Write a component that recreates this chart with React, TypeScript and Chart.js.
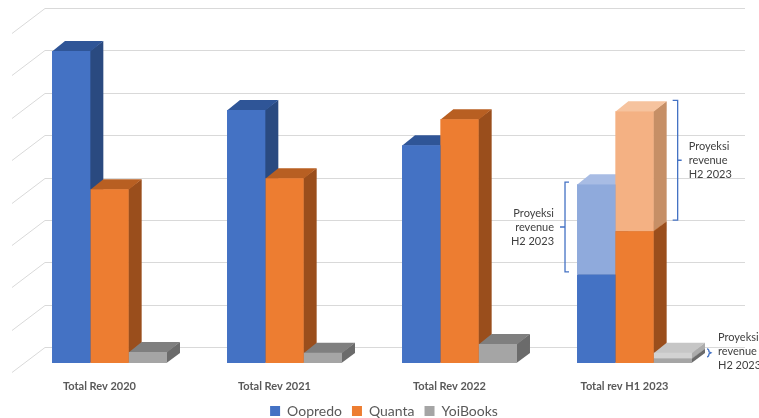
import React, { useEffect, useRef } from 'react';
import { Chart, registerables } from 'chart.js';

Chart.register(...registerables);

const categories = ['Total Rev 2020', 'Total Rev 2021', 'Total Rev 2022', 'Total rev H1 2023'];
const oopredo = [7.36, 5.97, 5.14, 2.08];
const quanta = [4.1, 4.36, 5.75, 3.11];
const yoiBooks = [0.26, 0.24, 0.45, 0.1];
const oopredoProj = [null, null, null, 2.14];
const quantaProj = [null, null, null, 2.83];
const yoiBooksProj = [null, null, null, 0.14];
const gridValues = [0, 1, 2, 3, 4, 5, 6, 7, 8];
const projLines = ['Proyeksi', 'revenue', 'H2 2023'];

// face colours: front, top, side
const faces = [
  { front: '#4472C4', top: '#2F5597', side: '#2A4A80' },
  { front: '#ED7D31', top: '#B85F22', side: '#9A4E1C' },
  { front: '#A5A5A5', top: '#7F7F7F', side: '#6B6B6B' },
  { front: '#8FAADC', top: '#A8BCE4', side: '#7D96C6' },
  { front: '#F4B183', top: '#F6C39E', side: '#C68F66' },
  { front: '#D2D2D2', top: '#C6C6C6', side: '#ACACAC' },
];

const DX = 13, DY = -10; // bar depth
const BX = 23, BY = -16; // back wall offset from bar front
const FX = -10, FY = 9; // floor front offset

const stacksOrder = [[0, 3], [1, 4], [2, 5]];

const threeD = {
  id: 'threeD',
  afterLayout(chart: any) {
    if (chart.legend) {
      chart.legend.left += 12;
      chart.legend.right += 12;
    }
  },
  beforeDatasetsDraw(chart: any) {
    const ctx = chart.ctx;
    const { left, right } = chart.chartArea;
    const ys = chart.scales.y;
    ctx.save();
    ctx.strokeStyle = '#D9D9D9';
    ctx.lineWidth = 1;
    for (const v of gridValues) {
      const py = Math.round(ys.getPixelForValue(v)) + 0.5;
      ctx.beginPath();
      ctx.moveTo(left + BX, py + BY);
      ctx.lineTo(right + BX, py + BY);
      ctx.moveTo(left + FX, py + FY);
      ctx.lineTo(left + BX, py + BY);
      ctx.stroke();
    }
    for (let i = 0; i < categories.length; i++) {
      for (const group of stacksOrder) {
        for (const di of group) {
          const ds = chart.data.datasets[di];
          if (ds.data[i] == null) continue;
          const el = chart.getDatasetMeta(di).data[i];
          if (!el) continue;
          const { x, y, base, width } = el.getProps(['x', 'y', 'base', 'width'], true);
          const l = x - width / 2, r = x + width / 2;
          const f = faces[di];
          ctx.fillStyle = f.side;
          ctx.beginPath();
          ctx.moveTo(r - 0.5, y);
          ctx.lineTo(r + DX, y + DY);
          ctx.lineTo(r + DX, base + DY);
          ctx.lineTo(r - 0.5, base);
          ctx.closePath();
          ctx.fill();
          ctx.fillStyle = f.top;
          ctx.beginPath();
          ctx.moveTo(l, y + 0.5);
          ctx.lineTo(r, y + 0.5);
          ctx.lineTo(r + DX, y + DY);
          ctx.lineTo(l + DX, y + DY);
          ctx.closePath();
          ctx.fill();
        }
      }
    }
    ctx.restore();
  },
  afterDatasetsDraw(chart: any) {
    const ctx = chart.ctx;
    const get = (di: number, i: number) => chart.getDatasetMeta(di).data[i].getProps(['x', 'y', 'base', 'width'], true);
    const last = categories.length - 1;
    ctx.save();
    ctx.strokeStyle = '#4472C4';
    ctx.lineWidth = 1.3;
    ctx.fillStyle = '#404040';
    ctx.font = '11px Lato, "Liberation Sans", sans-serif';
    ctx.textBaseline = 'middle';
    const drawText = (tx: number, cy: number, align: CanvasTextAlign) => {
      ctx.textAlign = align;
      projLines.forEach((s, k) => ctx.fillText(s, tx, cy + (k - 1) * 14));
    };
    // Oopredo projection bracket (left side)
    {
      const p = get(3, last);
      const bx = p.x - p.width / 2 - 12;
      const t = p.y - 2, b = p.base - 3, m = (t + b) / 2;
      ctx.beginPath();
      ctx.moveTo(bx + 4, t); ctx.lineTo(bx, t); ctx.lineTo(bx, b); ctx.lineTo(bx + 4, b);
      ctx.moveTo(bx, m); ctx.lineTo(bx - 5, m);
      ctx.stroke();
      drawText(bx - 11, m, 'right');
    }
    // Quanta projection bracket (right side)
    {
      const p = get(4, last);
      const bx = p.x + p.width / 2 + 24;
      const t = p.y - 11, b = p.base - 11, m = (t + b) / 2;
      ctx.beginPath();
      ctx.moveTo(bx - 5, t); ctx.lineTo(bx, t); ctx.lineTo(bx, b); ctx.lineTo(bx - 5, b);
      ctx.moveTo(bx, m); ctx.lineTo(bx + 4, m);
      ctx.stroke();
      drawText(bx + 11, m, 'left');
    }
    // YoiBooks projection bracket (small)
    {
      const p = get(5, last);
      const bx = p.x + p.width / 2 + 17;
      const m = (p.y + p.base) / 2 - 3;
      ctx.beginPath();
      ctx.moveTo(bx - 2, m - 4); ctx.quadraticCurveTo(bx, m - 4, bx, m - 1);
      ctx.lineTo(bx + 2, m);
      ctx.lineTo(bx, m + 1); ctx.quadraticCurveTo(bx, m + 4, bx - 2, m + 4);
      ctx.stroke();
      drawText(bx + 9, m - 1, 'left');
    }
    ctx.restore();
  },
};

export default function App() {
  const ref = useRef<HTMLCanvasElement | null>(null);
  useEffect(() => {
    if (!ref.current) return;
    const mk = (label: string, data: (number | null)[], di: number, stack: string) => ({
      label,
      data,
      stack,
      backgroundColor: faces[di].front,
      borderWidth: 0,
      categoryPercentage: 0.657,
      barPercentage: 1,
    });
    const chart = new Chart(ref.current, {
      type: 'bar',
      data: {
        labels: categories,
        datasets: [
          mk('Oopredo', oopredo, 0, 'o'),
          mk('Quanta', quanta, 1, 'q'),
          mk('YoiBooks', yoiBooks, 2, 'y'),
          mk('Oopredo H2', oopredoProj, 3, 'o'),
          mk('Quanta H2', quantaProj, 4, 'q'),
          mk('YoiBooks H2', yoiBooksProj, 5, 'y'),
        ],
      },
      options: {
        responsive: false,
        animation: false,
        layout: { padding: { left: 22, right: 37, top: 24, bottom: -10 } },
        scales: {
          x: {
            stacked: true,
            grid: { display: false, drawTicks: false },
            border: { display: false },
            ticks: {
              color: '#595959',
              font: { family: 'Lato, "Liberation Sans", sans-serif', size: 11, weight: 'bold' },
              padding: 17,
              labelOffset: -10,
            },
            afterFit: (s: any) => { s.height = 31; },
          },
          y: {
            stacked: true,
            display: false,
            min: 0,
            max: 8,
          },
        },
        plugins: {
          legend: {
            position: 'bottom',
            labels: {
              boxWidth: 10,
              boxHeight: 10,
              padding: 10,
              color: '#595959',
              font: { family: 'Lato, "Liberation Sans", sans-serif', size: 14 },
              filter: (item: any) => item.datasetIndex < 3,
            },
          },
          tooltip: { enabled: false },
        },
      },
      plugins: [threeD],
    } as any);
    return () => chart.destroy();
  }, []);
  return (
    <div style={{ position: 'fixed', left: 0, top: 0, width: 759, height: 418, background: '#fff' }}>
      <canvas ref={ref} width={759} height={418} />
    </div>
  );
}
